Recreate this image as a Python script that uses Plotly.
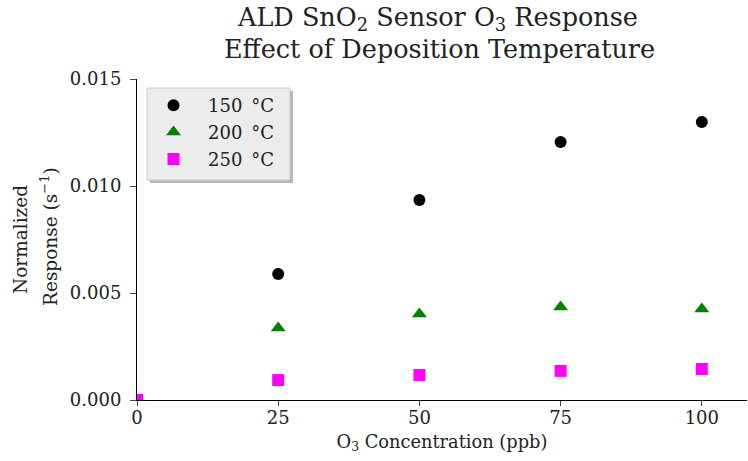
import plotly.graph_objects as go

conc = [0, 25, 50, 75, 100]
resp_150 = [0.0, 0.00589, 0.00935, 0.01206, 0.01299]
resp_200 = [0.0, 0.00336, 0.00402, 0.00435, 0.00425]
resp_250 = [0.0, 0.00093, 0.00117, 0.00136, 0.00145]
labels = ["150\u2002°C", "200\u2002°C", "250\u2002°C"]
x_ticks = [0, 25, 50, 75, 100]
y_ticks = [0.0, 0.005, 0.010, 0.015]
title_lines = ["ALD SnO<sub>2</sub> Sensor O<sub>3</sub> Response", "Effect of Deposition Temperature"]
y_title_lines = ["Normalized", "Response (s<sup>−1</sup>)"]
x_title = "O<sub>3</sub> Concentration (ppb)"

FONT = "DejaVu Serif"
TXT = "#222222"
W, H = 748, 461
L, R, T, B = 137, 1, 79, 61

fig = go.Figure()
fig.add_trace(go.Scatter(x=conc, y=resp_150, mode="markers", name=labels[0], legendgroup="a",
                         marker=dict(symbol="circle", size=12, color="black")))
fig.add_trace(go.Scatter(x=conc, y=resp_200, mode="markers", name=labels[1], legendgroup="b",
                         marker=dict(symbol="triangle-up", size=13, color="green")))
fig.add_trace(go.Scatter(x=conc, y=resp_250, mode="markers", name=labels[2], legendgroup="c",
                         marker=dict(symbol="square", size=12, color="magenta")))

pw = W - L - R
ph = H - T - B
def px_x(p):
    return (p - L) / pw
def px_y(p):
    return (H - B - p) / ph

# legend frame with shadow
fig.add_shape(type="rect", xref="paper", yref="paper",
              x0=px_x(150), x1=px_x(293), y0=px_y(183), y1=px_y(91),
              fillcolor="#999999", line=dict(width=0), layer="above", opacity=0.7)
fig.add_shape(type="rect", xref="paper", yref="paper",
              x0=px_x(147), x1=px_x(290), y0=px_y(180), y1=px_y(88),
              fillcolor="#ececec", line=dict(width=1, color="#cccccc"), layer="above")

# title lines
fig.add_annotation(text=title_lines[0], xref="paper", yref="paper", x=px_x(437), y=px_y(19),
                   xanchor="center", yanchor="middle", showarrow=False,
                   font=dict(family=FONT, size=25.5, color=TXT))
fig.add_annotation(text=title_lines[1], xref="paper", yref="paper", x=px_x(439), y=px_y(49),
                   xanchor="center", yanchor="middle", showarrow=False,
                   font=dict(family=FONT, size=25.5, color=TXT))
# y-axis title lines
fig.add_annotation(text=y_title_lines[0], xref="paper", yref="paper", x=px_x(21), y=px_y(240),
                   xanchor="center", yanchor="middle", showarrow=False, textangle=-90,
                   font=dict(family=FONT, size=18.5, color=TXT))
fig.add_annotation(text=y_title_lines[1], xref="paper", yref="paper", x=px_x(49), y=px_y(237),
                   xanchor="center", yanchor="middle", showarrow=False, textangle=-90,
                   font=dict(family=FONT, size=18.5, color=TXT))

fig.update_layout(
    width=W, height=H,
    margin=dict(l=L, r=R, t=T, b=B),
    paper_bgcolor="white", plot_bgcolor="white",
    font=dict(family=FONT, size=18, color=TXT),
    showlegend=True,
    legend=dict(x=px_x(139), y=px_y(87), xanchor="left", yanchor="top",
                bgcolor="rgba(0,0,0,0)", borderwidth=0, traceorder="grouped",
                font=dict(family=FONT, size=18, color=TXT),
                itemwidth=59, tracegroupgap=0.5),
    xaxis=dict(range=[0, 108], tickvals=x_ticks, ticks="outside", ticklen=5,
               ticklabelstandoff=-4,
               showgrid=False, zeroline=False, showline=True, linecolor="black",
               linewidth=1, tickfont=dict(size=18),
               title=dict(text=x_title, font=dict(size=17.8), standoff=8)),
    yaxis=dict(range=[0, 0.015], tickvals=y_ticks, tickformat=".3f", ticks="outside",
               ticklen=6, ticklabelstandoff=5, showgrid=False, zeroline=False, showline=True,
               linecolor="black", linewidth=1, tickfont=dict(size=18)),
)

fig.write_html("out.html", config={"responsive": False, "displayModeBar": False},
               post_script="document.body.style.margin='0';document.body.style.overflow='hidden';")
